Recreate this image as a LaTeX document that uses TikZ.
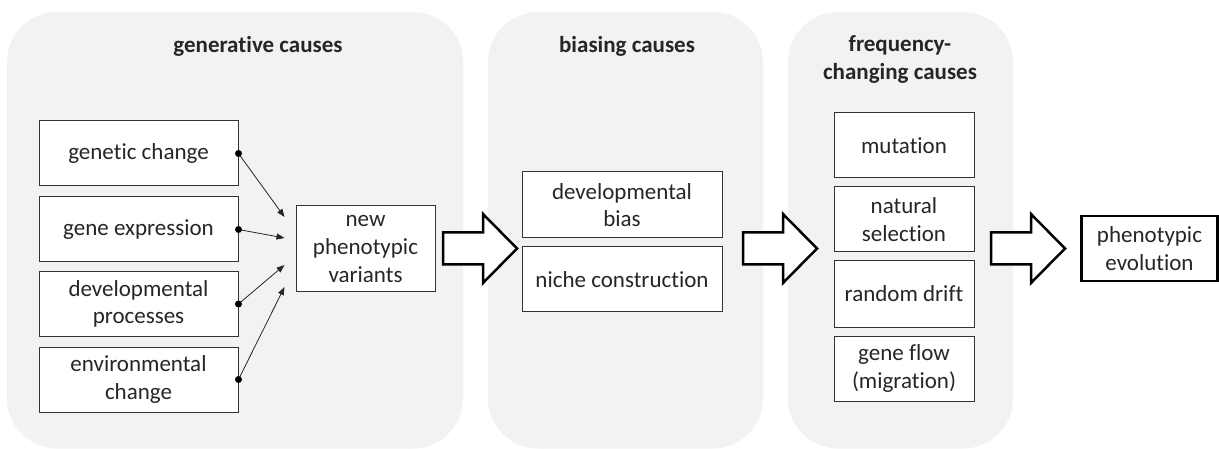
\documentclass[tikz,border=0pt]{standalone}
\usepackage{fontspec}
\setmainfont{Carlito}[Ligatures={NoCommon,NoContextual}]
\usetikzlibrary{calc,arrows.meta}
\definecolor{panelfill}{HTML}{F2F2F2}
\definecolor{ink}{HTML}{262626}
\tikzset{
  panel/.style={fill=panelfill, rounded corners=50pt},
  heading/.style={font=\fontsize{23}{28}\selectfont\bfseries, text=ink, align=center, inner sep=0pt},
  causebox/.style={draw=black!80, line width=1pt, fill=white, text=ink, align=center, inner sep=0pt,
    font=\fontsize{23}{27.7}\selectfont},
  outcomebox/.style={causebox, draw=black, line width=2.5pt},
  link/.style={line width=0.8pt, draw=black!85, -{Triangle[length=8pt,width=6pt]}},
  linkdot/.style={fill=black},
  bigarrow/.style={draw=black, line width=2.5pt, fill=white, line join=miter},
  blockarrow/.pic={
    \draw[bigarrow] (0,-16) -- (40,-16) -- (40,-34.5) -- (74,0) -- (40,34.5) -- (40,16) -- (0,16) -- cycle;
  }
}
\begin{document}
\begin{tikzpicture}[x=1pt,y=-1pt]
\useasboundingbox (0,0) rectangle (1219,449);

% background panels
\fill[panel] (7,12) rectangle (463,448.5);
\fill[panel] (488,12) rectangle (763,448.5);
\fill[panel] (788,12) rectangle (1013,448.5);

% panel headings
\node[heading] (hgen) at (258,46.5) {generative causes};
\node[heading] (hbias) at (627,46.5) {biasing causes};
\node[heading] (hfreq) at (900,59) {frequency-\\changing causes};

% generative causes
\node[causebox, minimum width=199pt, minimum height=65pt] (g1) at (138.5,153.5) {genetic change};
\node[causebox, minimum width=199pt, minimum height=65pt] (g2) at (138.5,229.5) {gene expression};
\node[causebox, minimum width=199pt, minimum height=64pt] (g3) at (138.5,304) {developmental\\processes};
\node[causebox, minimum width=199pt, minimum height=65pt] (g4) at (138.5,379.5) {environmental\\change};
\node[causebox, minimum width=139pt, minimum height=86pt] (npv) at (365.5,249) {new\\phenotypic\\variants};

% links into the new variants
\coordinate (e1) at ($(npv.west)+(-11,-32)$);
\coordinate (e2) at ($(npv.west)+(-11,-11)$);
\coordinate (e3) at ($(npv.west)+(-11,16)$);
\coordinate (e4) at ($(npv.west)+(-11,38)$);
\foreach \i in {1,2,3,4}{
  \draw[link] (g\i.east) -- (e\i);
  \fill[linkdot] (g\i.east) circle (3.5pt);
}

% biasing causes
\node[causebox, minimum width=200pt, minimum height=66pt] (b1) at (622,205) {developmental\\bias};
\node[causebox, minimum width=200pt, minimum height=65pt] (b2) at (622,279.5) {niche construction};

% frequency-changing causes
\node[causebox, minimum width=140pt, minimum height=65pt] (f1) at (904,145.5) {mutation};
\node[causebox, minimum width=140pt, minimum height=65pt] (f2) at (904,219.5) {natural\\selection};
\node[causebox, minimum width=140pt, minimum height=66pt] (f3) at (904,294) {random drift};
\node[causebox, minimum width=140pt, minimum height=65pt] (f4) at (904,368.5) {gene flow\\(migration)};

% outcome
\node[outcomebox, minimum width=136pt, minimum height=65pt] (pe) at (1149.5,248.5) {phenotypic\\evolution};

% block arrows between stages
\pic at (443,248.5) {blockarrow};
\pic at (743,248.5) {blockarrow};
\pic at (991,248.5) {blockarrow};
\end{tikzpicture}
\end{document}
